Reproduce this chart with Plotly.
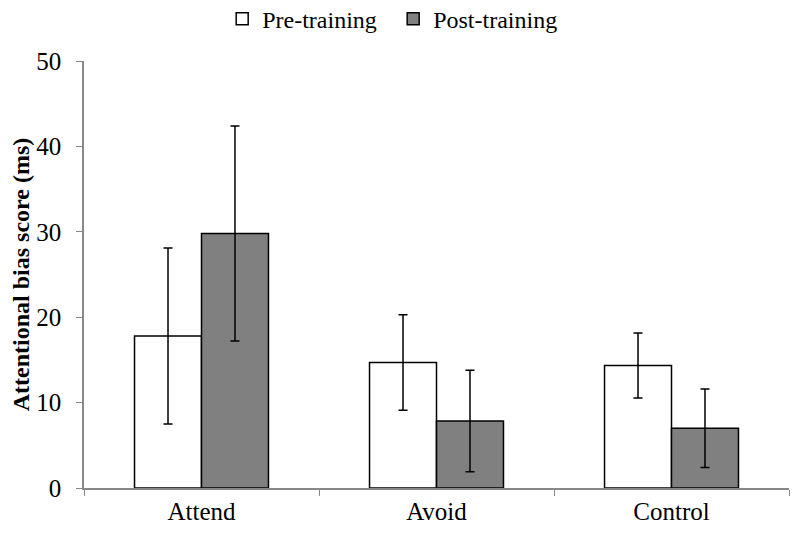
import plotly.graph_objects as go

categories = ["Attend", "Avoid", "Control"]
pre_values = [17.8, 14.7, 14.35]
pre_errors = [10.3, 5.6, 3.8]
post_values = [29.8, 7.85, 7.0]
post_errors = [12.6, 5.95, 4.6]
y_ticks = [0, 10, 20, 30, 40, 50]

FONT = "Liberation Serif, Times New Roman, serif"

fig = go.Figure()
fig.add_trace(go.Bar(
    name="Pre-training", x=categories, y=pre_values,
    marker=dict(color="white", line=dict(color="black", width=1.5)),
    error_y=dict(type="data", array=pre_errors, color="black", thickness=1.5, width=4.5),
))
fig.add_trace(go.Bar(
    name="Post-training", x=categories, y=post_values,
    marker=dict(color="#808080", line=dict(color="black", width=1.5)),
    error_y=dict(type="data", array=post_errors, color="black", thickness=1.5, width=4.5),
))

fig.update_layout(
    width=792, height=530,
    margin=dict(l=76, r=11, t=53, b=50, autoexpand=False),
    plot_bgcolor="white", paper_bgcolor="white",
    barmode="group", bargap=0.43, bargroupgap=0,
    font=dict(family=FONT, size=24, color="black"),
    legend=dict(orientation="h", x=0.196, xanchor="left", y=1.098, yanchor="middle",
                font=dict(size=24, family=FONT), itemwidth=30,
                entrywidth=126, entrywidthmode="pixels",
                traceorder="normal", tracegroupgap=0),
    showlegend=True,
)
fig.update_xaxes(
    showline=True, linecolor="#888888", linewidth=1.5,
    ticks="outside", tickson="boundaries", ticklen=6, tickcolor="#888888",
    range=[-0.5, 2.5], showgrid=False,
    tickfont=dict(size=25, family=FONT),
)
fig.update_yaxes(
    range=[0, 50], tickvals=y_ticks, showline=True, linecolor="#888888", linewidth=1.5,
    ticks="outside", ticklen=6, tickcolor="#888888", showgrid=False, zeroline=False,
    tickfont=dict(size=25, family=FONT), ticklabelstandoff=10,
    title=dict(text="<b>Attentional bias score (ms)</b>", font=dict(size=24, family=FONT), standoff=6),
)

fig.write_html("out.html")
